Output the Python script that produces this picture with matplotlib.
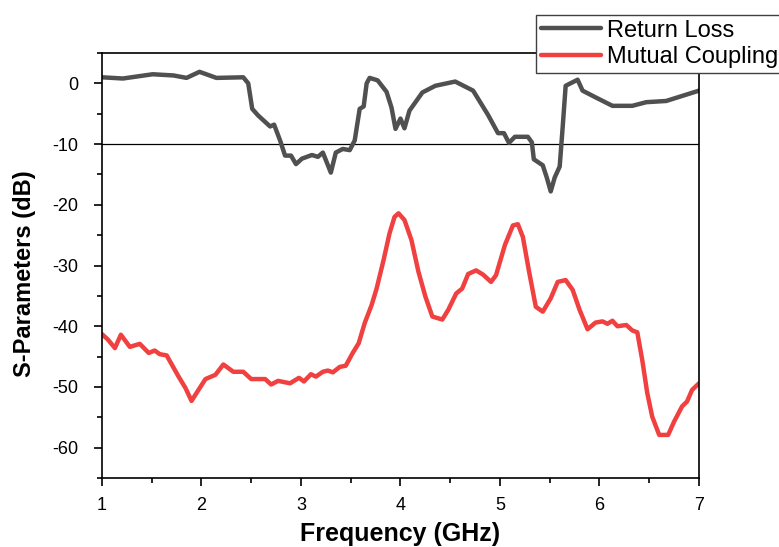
import matplotlib
matplotlib.use("Agg")
import matplotlib.pyplot as plt
from matplotlib.ticker import MultipleLocator

plt.rcParams['font.family'] = ['Liberation Sans', 'DejaVu Sans']
plt.rcParams['axes.unicode_minus'] = False

# Return loss (S11)
rl_freq = [1.00, 1.21, 1.51, 1.72, 1.85, 1.98, 2.15, 2.42, 2.47, 2.51, 2.57, 2.69, 2.73,
           2.79, 2.84, 2.90, 2.95, 3.01, 3.11, 3.17, 3.22, 3.30, 3.35, 3.42, 3.49, 3.54,
           3.59, 3.63, 3.66, 3.69, 3.77, 3.86, 3.91, 3.95, 4.00, 4.04, 4.09, 4.22, 4.35,
           4.55, 4.73, 4.88, 4.98, 5.04, 5.09, 5.15, 5.28, 5.32, 5.34, 5.43, 5.47, 5.51,
           5.55, 5.60, 5.63, 5.66, 5.78, 5.83, 5.96, 6.13, 6.33, 6.47, 6.67, 7.00]
rl_db = [1.0, 0.8, 1.5, 1.3, 0.9, 1.9, 0.9, 1.0, 0.0, -4.2, -5.3, -7.1, -6.8,
         -9.4, -11.9, -11.9, -13.3, -12.4, -11.8, -12.1, -11.4, -14.7, -11.4, -10.8, -11.0, -9.4,
         -4.2, -3.8, 0.0, 0.9, 0.5, -1.4, -4.0, -7.5, -5.8, -7.4, -4.5, -1.5, -0.4,
         0.3, -1.2, -5.2, -8.2, -8.2, -9.8, -8.8, -8.8, -9.7, -12.5, -13.5, -15.5, -17.8,
         -15.5, -13.7, -7.2, -0.4, 0.6, -1.2, -2.3, -3.7, -3.7, -3.1, -2.9, -1.2]

# Mutual coupling (S21)
mc_freq = [1.00, 1.06, 1.13, 1.19, 1.28, 1.38, 1.47, 1.53, 1.58, 1.65, 1.77, 1.84, 1.90,
           1.95, 2.04, 2.14, 2.22, 2.32, 2.42, 2.50, 2.64, 2.70, 2.77, 2.89, 2.98, 3.03,
           3.10, 3.15, 3.22, 3.27, 3.32, 3.39, 3.45, 3.52, 3.58, 3.64, 3.71, 3.76, 3.83,
           3.89, 3.94, 3.98, 4.04, 4.11, 4.18, 4.25, 4.32, 4.42, 4.48, 4.56, 4.62, 4.68,
           4.76, 4.83, 4.91, 4.96, 5.05, 5.13, 5.18, 5.23, 5.29, 5.36, 5.43, 5.51, 5.58,
           5.66, 5.73, 5.80, 5.88, 5.96, 6.03, 6.08, 6.13, 6.18, 6.27, 6.33, 6.38, 6.43,
           6.48, 6.53, 6.60, 6.69, 6.75, 6.83, 6.88, 6.93, 7.00]
mc_db = [-41.3, -42.2, -43.6, -41.4, -43.4, -42.9, -44.4, -44.0, -44.6, -44.8, -48.3, -50.2, -52.3,
         -51.0, -48.7, -48.0, -46.3, -47.5, -47.5, -48.7, -48.7, -49.6, -49.0, -49.4, -48.5, -49.1,
         -47.9, -48.3, -47.5, -47.3, -47.6, -46.7, -46.5, -44.4, -42.8, -39.5, -36.5, -33.8, -29.1,
         -24.7, -22.0, -21.4, -22.5, -25.8, -31.0, -35.1, -38.4, -38.9, -37.3, -34.6, -33.8, -31.4,
         -30.8, -31.5, -32.7, -31.6, -26.6, -23.4, -23.2, -25.3, -30.8, -36.8, -37.6, -35.4, -32.7,
         -32.4, -34.0, -37.3, -40.5, -39.4, -39.2, -39.6, -39.1, -40.0, -39.8, -40.7, -41.0, -45.6,
         -51.0, -54.9, -57.9, -57.9, -55.7, -53.2, -52.4, -50.5, -49.4]

fig = plt.figure(figsize=(7.79, 5.47), dpi=100)
ax = fig.add_axes([0.1309, 0.1261, 0.7664, 0.777])

ax.plot(rl_freq, rl_db, color='#505050', lw=3.2, solid_joinstyle='round',
        solid_capstyle='round', label='Return Loss')
ax.plot(mc_freq, mc_db, color='#f04040', lw=3.2, solid_joinstyle='round',
        solid_capstyle='round', label='Mutual Coupling')
ax.axhline(-10, color='black', lw=0.9, zorder=1)

ax.set_xlim(1, 7)
ax.set_ylim(-65, 5)
ax.xaxis.set_major_locator(MultipleLocator(1))
ax.xaxis.set_minor_locator(MultipleLocator(0.5))
ax.yaxis.set_major_locator(MultipleLocator(10))
ax.yaxis.set_minor_locator(MultipleLocator(5))
ax.tick_params(which='major', direction='out', length=6, width=1.2, labelsize=13)
ax.tick_params(which='minor', direction='out', length=3.5, width=1.2)
ax.tick_params(axis='x', which='major', pad=8)
ax.tick_params(axis='y', which='major', pad=11)
for s in ax.spines.values():
    s.set_linewidth(1.2)

ax.set_xlabel('Frequency (GHz)', fontsize=18, fontweight='bold')
ax.set_ylabel('S-Parameters (dB)', fontsize=17, fontweight='bold')
ax.xaxis.set_label_coords(0.5, -0.103)
ax.yaxis.set_label_coords(-0.111, 0.48)

leg = ax.legend(loc='upper left', bbox_to_anchor=(536 / 779, 1 - 15 / 547),
                bbox_transform=fig.transFigure, fontsize=17, frameon=True,
                fancybox=False, edgecolor='#404040', framealpha=1,
                borderaxespad=0, borderpad=0.2, handlelength=2.55,
                handletextpad=0.25, labelspacing=0.2)
leg.get_frame().set_linewidth(1.0)

fig.savefig('out.png', dpi=100)
